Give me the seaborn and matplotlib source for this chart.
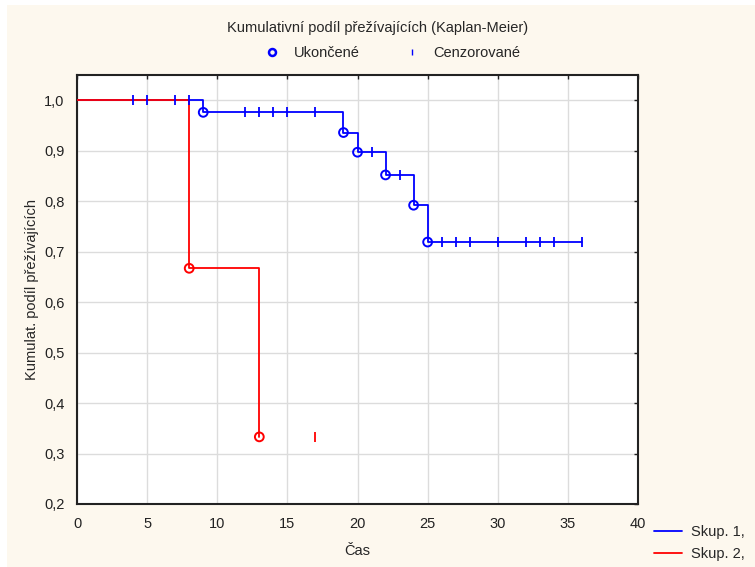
import numpy as np
import pandas as pd
import matplotlib
matplotlib.use("Agg")
import matplotlib.pyplot as plt
from matplotlib.lines import Line2D
from matplotlib.patches import Rectangle
import seaborn as sns

# Kaplan-Meier steps
g1_time = [0, 9, 19, 20, 22, 24, 25, 36]
g1_surv = [1.0, 0.976, 0.936, 0.897, 0.852, 0.792, 0.719, 0.719]
g1_event = [9, 19, 20, 22, 24, 25]
g1_cens = [4, 5, 7, 8, 12, 13, 14, 15, 17, 21, 23, 26, 27, 28, 30, 32, 33, 34, 36]

g2_time = [0, 8, 13]
g2_surv = [1.0, 0.667, 0.333]
g2_event = [8, 13]
g2_cens = [17]

groups = ["Skup. 1,", "Skup. 2,"]
colors = {"Skup. 1,": "#0000ff", "Skup. 2,": "#ff0000"}


def surv_at(times, surv, t):
    idx = np.searchsorted(times, t, side="right") - 1
    return np.asarray(surv)[idx]


steps = pd.concat([
    pd.DataFrame({"t": g1_time, "s": g1_surv, "g": groups[0]}),
    pd.DataFrame({"t": g2_time, "s": g2_surv, "g": groups[1]}),
])
events = pd.concat([
    pd.DataFrame({"t": g1_event, "s": surv_at(g1_time, g1_surv, g1_event), "g": groups[0]}),
    pd.DataFrame({"t": g2_event, "s": surv_at(g2_time, g2_surv, g2_event), "g": groups[1]}),
])
cens = pd.concat([
    pd.DataFrame({"t": g2_cens, "s": surv_at(g2_time, g2_surv, g2_cens), "g": groups[1]}),
    pd.DataFrame({"t": g1_cens, "s": surv_at(g1_time, g1_surv, g1_cens), "g": groups[0]}),
])

sns.set_style("white")
plt.rcParams["font.family"] = ["Liberation Sans", "DejaVu Sans"]
plt.rcParams["font.size"] = 10

fig = plt.figure(figsize=(7.55, 5.67), dpi=100, facecolor="white")
fig.patches.append(Rectangle((7 / 755, 0), 1, 1 - 5 / 567, transform=fig.transFigure,
                             facecolor="#fdf8ee", edgecolor="none", zorder=-10))
ax = fig.add_axes([77 / 755, 1 - 504 / 567, 561 / 755, 429 / 567])
ax.set_facecolor("white")

# group 1 first, group 2 drawn over it on the shared stretch at 1.0
for g in groups:
    d = steps[steps.g == g]
    sns.lineplot(data=d, x="t", y="s", drawstyle="steps-post", estimator=None, sort=False,
                 color=colors[g], lw=1.3, ax=ax, legend=False, zorder=3)
for g in groups:
    d = events[events.g == g]
    ax.scatter(d.t, d.s, s=40, marker="o", facecolors="none", edgecolors=colors[g],
               linewidths=1.4, zorder=4)
    c = cens[cens.g == g]
    ax.scatter(c.t, c.s, s=45, marker="|", color=colors[g], linewidths=1.3, zorder=4)

ax.set_xlim(0, 40)
ax.set_ylim(0.2, 1.05)
ax.set_xticks(range(0, 41, 5))
ax.set_yticks(np.arange(0.2, 1.01, 0.1))
ax.set_yticklabels([f"{v:.1f}".replace(".", ",") for v in np.arange(0.2, 1.01, 0.1)])
ax.grid(True, color="#dcdcdc", lw=1)
ax.set_axisbelow(True)
ax.tick_params(direction="in", length=3, width=1, top=True, right=True,
               labelsize=10.5, pad=9, colors="#222222")
for sp in ax.spines.values():
    sp.set_color("#222222")
    sp.set_linewidth(1.5)
ax.set_xlabel("Čas", fontsize=10.5, labelpad=10)
ax.set_ylabel("Kumulat. podíl přežívajících", fontsize=10.5, labelpad=4)

fig.text(0.5, 1 - 28 / 567, "Kumulativní podíl přežívajících (Kaplan-Meier)",
         ha="center", va="center", fontsize=10.5)
top_handles = [
    Line2D([], [], ls="none", marker="o", mfc="none", mec="#0000ff", mew=1.8, ms=5),
    Line2D([], [], ls="none", marker="|", color="#0000ff", mew=1, ms=5),
]
fig.legend(top_handles, ["Ukončené", "Cenzorované"], loc="center",
           bbox_to_anchor=(0.515, 1 - 53 / 567), ncol=2, frameon=False,
           fontsize=10.5, handletextpad=0.5, columnspacing=2.6)
line_handles = [Line2D([], [], color=colors[g], lw=1.3) for g in groups]
fig.legend(line_handles, groups, loc="center left",
           bbox_to_anchor=(641 / 755, 1 - 543 / 567), frameon=False,
           fontsize=10.5, handlelength=1.9, handletextpad=0.6, labelspacing=0.55)

fig.savefig("out.png", dpi=100, facecolor=fig.get_facecolor())
